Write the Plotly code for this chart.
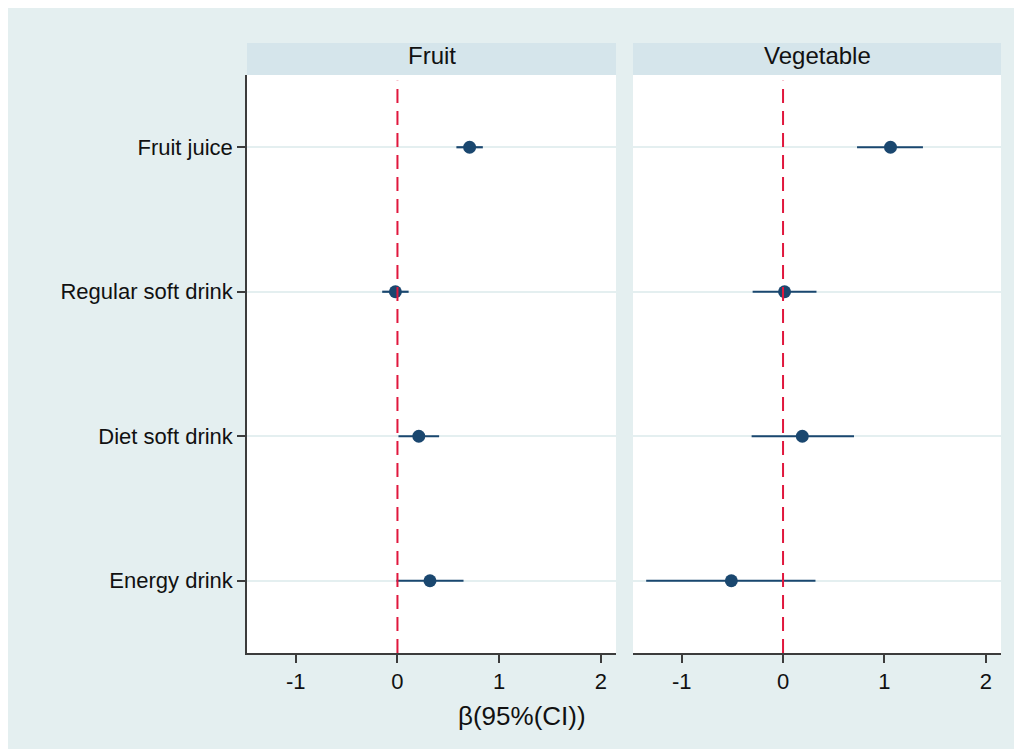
import plotly.graph_objects as go

categories = ["Fruit juice", "Regular soft drink", "Diet soft drink", "Energy drink"]
panels = ["Fruit", "Vegetable"]
fruit_beta = [0.71, -0.02, 0.21, 0.32]
fruit_lo = [0.58, -0.15, 0.01, -0.01]
fruit_hi = [0.84, 0.11, 0.41, 0.65]
veg_beta = [1.06, 0.015, 0.19, -0.51]
veg_lo = [0.73, -0.30, -0.31, -1.35]
veg_hi = [1.38, 0.33, 0.70, 0.32]
x_ticks = [-1, 0, 1, 2]
x_ticktext = ["-1", "0", "1", "2"]
x_title = "β(95%(CI))"

NAVY = "#1a476f"
RED = "#e0173d"
BG = "#e4eff0"
HEAD = "#d5e5eb"
AX = "#3c3c3c"
FONT = "Liberation Sans, Arial, sans-serif"

# page has an 8px body margin; figure extends past the window edge
OFF = 8
W, H = 1022, 749
ML, MT = 247 - OFF, 43 - OFF
MR = W - (1001 - OFF)
MB = H - (653 - OFF)
PW = W - ML - MR
PH = H - MT - MB
head_frac = 32 / PH
dom1 = [0, (616 - 247) / PW]
dom2 = [(633 - 247) / PW, 1]

ypos = list(range(1, len(categories) + 1))

fig = go.Figure()
series = [(fruit_beta, fruit_lo, fruit_hi), (veg_beta, veg_lo, veg_hi)]
for i, (b, lo, hi) in enumerate(series):
    ax = "" if i == 0 else str(i + 1)
    fig.add_trace(go.Scatter(
        x=b, y=ypos, mode="markers",
        marker=dict(color=NAVY, size=13),
        error_x=dict(type="data", symmetric=False,
                     array=[h - v for h, v in zip(hi, b)],
                     arrayminus=[v - l for l, v in zip(lo, b)],
                     color=NAVY, thickness=2.2, width=0),
        xaxis="x" + ax, yaxis="y" + ax, showlegend=False,
        hoverinfo="skip"))
    fig.add_shape(type="line", xref="x" + ax, yref="y" + ax + " domain",
                  x0=0, x1=0, y0=0, y1=0.99,
                  line=dict(color=RED, width=2, dash="14px,8px"), layer="above")

xcommon = dict(range=[-1.48, 2.15], tickvals=x_ticks, ticktext=x_ticktext,
               ticks="outside", ticklen=8,
               tickwidth=1.5, tickcolor=AX, showline=True, linecolor=AX, linewidth=1.5,
               showgrid=False, zeroline=False, fixedrange=True,
               tickfont=dict(family=FONT, size=22, color="#111111"))
ycommon = dict(range=[4.5, 0.5], tickvals=ypos, ticktext=categories, showgrid=True,
               gridcolor=BG, gridwidth=2, zeroline=False, fixedrange=True,
               domain=[0, 1 - head_frac])

fig.update_layout(
    width=W, height=H,
    margin=dict(l=ML, r=MR, t=MT, b=MB),
    paper_bgcolor=BG, plot_bgcolor="white",
    font=dict(family=FONT, color="#111111"),
    xaxis=dict(domain=dom1, anchor="y", **xcommon),
    xaxis2=dict(domain=dom2, anchor="y2", **xcommon),
    yaxis=dict(anchor="x", showline=True, linecolor=AX, linewidth=1.5,
               ticks="outside", ticklen=8, tickwidth=1.5, tickcolor=AX,
               tickfont=dict(family=FONT, size=22, color="#111111"), **ycommon),
    yaxis2=dict(anchor="x2", showline=False, showticklabels=False, ticks="", **ycommon),
)

annos = []
for dom, name in zip([dom1, dom2], panels):
    fig.add_shape(type="rect", xref="paper", yref="paper", x0=dom[0], x1=dom[1],
                  y0=1 - head_frac, y1=1, fillcolor=HEAD, line=dict(width=0))
    annos.append(dict(text=name, xref="paper", yref="paper", x=(dom[0] + dom[1]) / 2,
                      y=1 - head_frac / 2 + 3 / PH, xanchor="center", yanchor="middle",
                      showarrow=False, font=dict(family=FONT, size=24, color="#111111")))
annos.append(dict(text=x_title, xref="paper", yref="paper", x=(521.7 - 247) / PW,
                  y=(653 - 716) / PH, xanchor="center", yanchor="middle", showarrow=False,
                  font=dict(family=FONT, size=26, color="#111111")))
fig.update_layout(annotations=annos)

fig.write_html("out.html")
